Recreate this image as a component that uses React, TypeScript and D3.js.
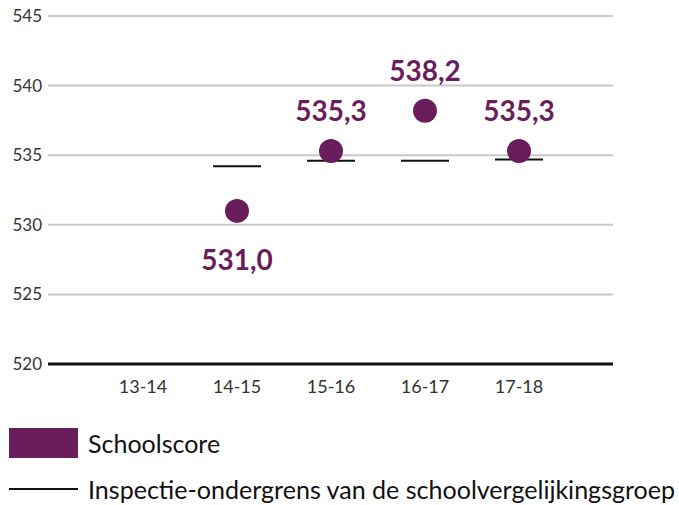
import React from 'react';
import * as d3 from 'd3';

const categories = ['13-14', '14-15', '15-16', '16-17', '17-18'];
const schoolScores: (number | null)[] = [null, 531.0, 535.3, 538.2, 535.3];
const lowerLimit: (number | null)[] = [null, 534.2, 534.6, 534.6, 534.7];
const yTicks = [520, 525, 530, 535, 540, 545];
// label under the dot instead of above it
const labelBelow = [false, true, false, false, false];

const W = 679;
const H = 505;
const left = 49;
const right = 613;
const top = 16;
const bottom = 364;
const purple = '#6a1d5b';
const font = 'Lato, "Open Sans", sans-serif';

const App = () => {
  const x = d3.scalePoint<string>().domain(categories).range([left, right]).padding(1);
  const y = d3.scaleLinear().domain([520, 545]).range([bottom, top]);
  const fmt = (v: number) => v.toFixed(1).replace('.', ',');

  return (
    <svg width={W} height={H} style={{ position: 'absolute', left: 0, top: 0 }}>
      {/* gridlines + y labels */}
      {yTicks.map((t) => (
        <g key={t}>
          <line
            x1={left - 1}
            x2={right}
            y1={y(t)}
            y2={y(t)}
            stroke={t === 520 ? '#111' : '#c8c8c8'}
            strokeWidth={t === 520 ? 3 : 2}
          />
          <text x={42} y={y(t) + 6} textAnchor="end" fontFamily={font} fontSize={17} fill="#333">
            {t}
          </text>
        </g>
      ))}

      {/* x labels */}
      {categories.map((c) => (
        <text key={c} x={x(c)} y={393} textAnchor="middle" fontFamily={font} fontSize={18} fill="#333">
          {c}
        </text>
      ))}

      {/* lower limit dashes */}
      {lowerLimit.map((v, i) =>
        v == null ? null : (
          <line
            key={'l' + i}
            x1={(x(categories[i]) as number) - 24}
            x2={(x(categories[i]) as number) + 24}
            y1={y(v)}
            y2={y(v)}
            stroke="#111"
            strokeWidth={2}
          />
        )
      )}

      {/* school score dots */}
      {schoolScores.map((v, i) =>
        v == null ? null : (
          <g key={'s' + i}>
            <circle cx={x(categories[i])} cy={y(v)} r={12} fill={purple} />
            <text
              x={x(categories[i])}
              y={labelBelow[i] ? y(v) + 59 : y(v) - 30}
              textAnchor="middle"
              fontFamily={font}
              fontWeight="bold"
              fontSize={28}
              fill={purple}
            >
              {fmt(v)}
            </text>
          </g>
        )
      )}

      {/* legend */}
      <rect x={9} y={428} width={69} height={30} fill={purple} />
      <text x={88} y={453} fontFamily={font} fontSize={25} fill="#111">
        Schoolscore
      </text>
      <line x1={9} x2={78} y1={489} y2={489} stroke="#111" strokeWidth={2} />
      <text x={88} y={499} fontFamily={font} fontSize={25} fill="#111" textLength={587} lengthAdjust="spacingAndGlyphs">
        Inspectie-ondergrens van de schoolvergelijkingsgroep
      </text>
    </svg>
  );
};

export default App;
